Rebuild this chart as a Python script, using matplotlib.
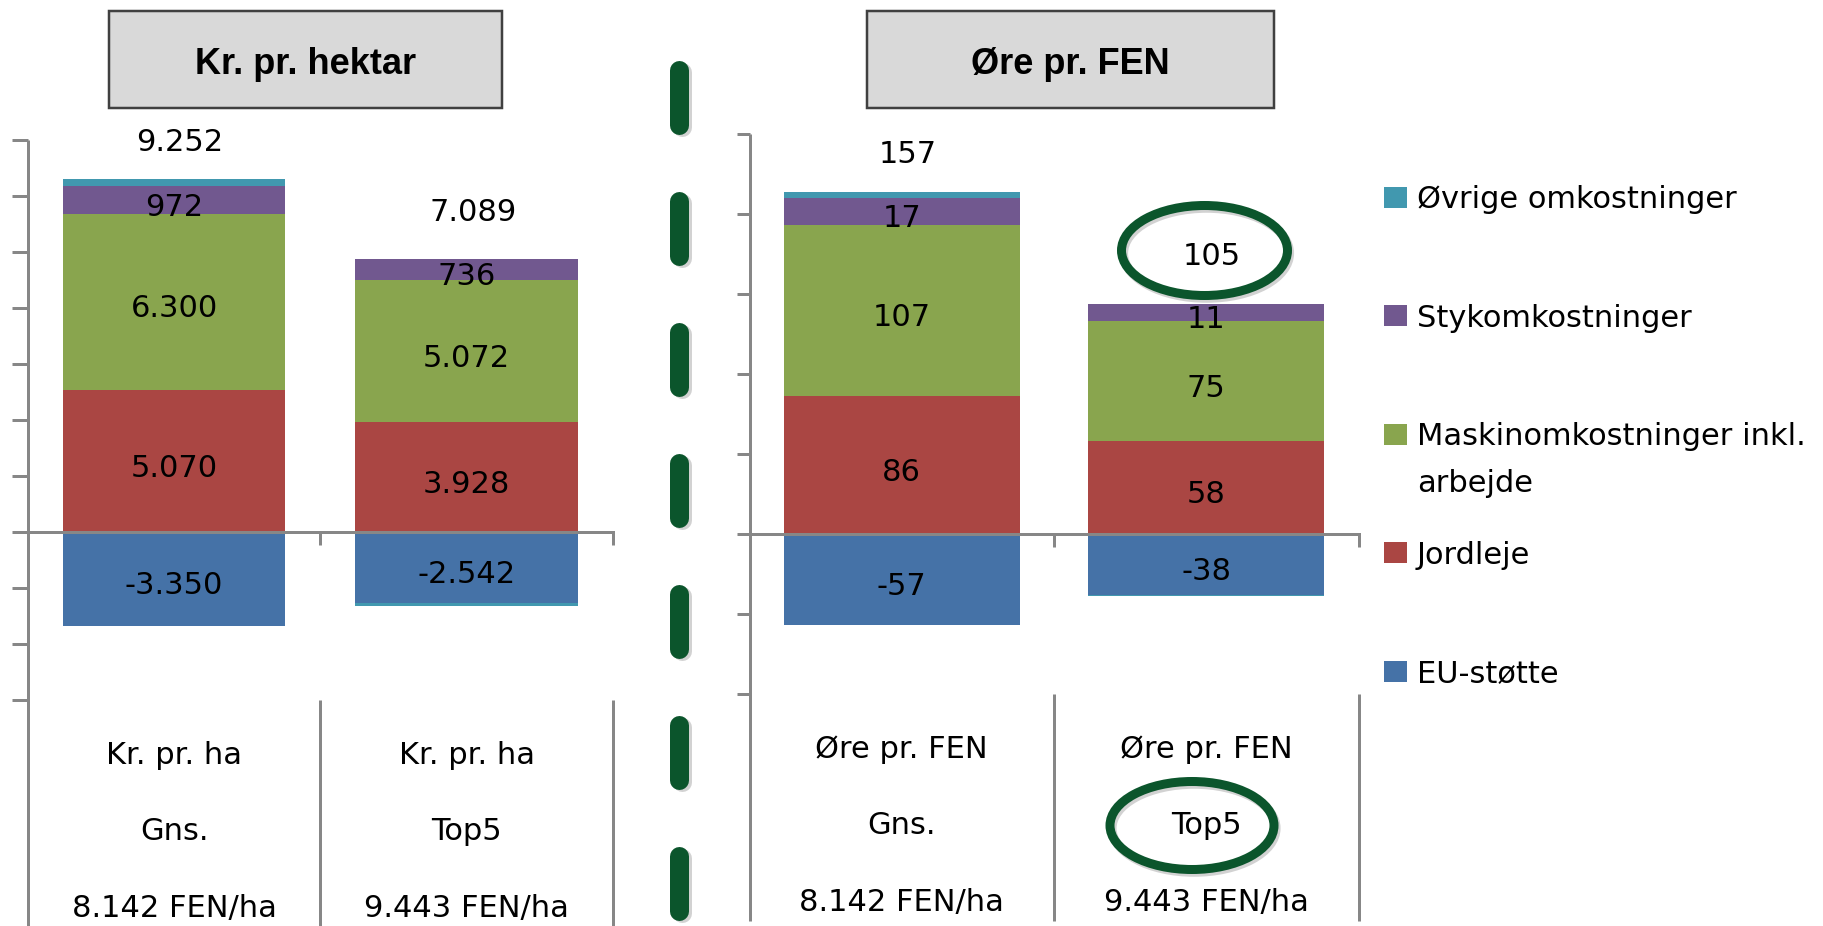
import matplotlib
matplotlib.use('Agg')
import matplotlib.pyplot as plt
import matplotlib.patheffects as pe
import matplotlib.transforms as mtransforms
from matplotlib.patches import Rectangle, Ellipse
from matplotlib.lines import Line2D
import numpy as np

# Figure size in pixels (dpi 100)
W, H = 1824, 926

# Data
categories = ['Gns.', 'Top5']
fen_pr_ha = ['8.142 FEN/ha', '9.443 FEN/ha']

series_names = ['Øvrige omkostninger', 'Stykomkostninger',
                'Maskinomkostninger inkl.\narbejde', 'Jordleje', 'EU-støtte']
series_colors = ['#4198AF', '#71588F', '#89A54E', '#AA4643', '#4572A7']

# Kr. pr. hektar
kr_eu_stotte = [-3350, -2542]
kr_jordleje = [5070, 3928]
kr_maskin = [6300, 5072]
kr_styk = [972, 736]
kr_ovrige = [260, -105]
kr_total = [9252, 7089]

# Øre pr. FEN
ore_eu_stotte = [-57, -38]
ore_jordleje = [86, 58]
ore_maskin = [107, 75]
ore_styk = [17, 11]
ore_ovrige = [4, -1]
ore_total = [157, 105]

AXIS_GRAY = '#878787'
DARK_GREEN = '#0b552c'
FONT_SIZE = 22
PX = 0.72  # points per pixel at dpi 100


def px(x, y):
    # pixel position (from top-left) -> figure fraction
    return x / W, 1 - y / H


def fmt_dk(v):
    return f'{int(round(v)):,}'.replace(',', '.')


def draw_panel(ax, values, totals, unit_label, ylim, ystep, tick_len, bar_width):
    x = np.arange(len(categories))
    colors = {'eu': series_colors[4], 'jord': series_colors[3], 'maskin': series_colors[2],
              'styk': series_colors[1], 'ovrige': series_colors[0]}

    # Stack: negatives go down from 0, positives go up from 0
    pos_base = np.zeros(len(x))
    neg_base = np.zeros(len(x))
    for key in ['eu', 'jord', 'maskin', 'styk', 'ovrige']:
        v = np.array(values[key], dtype=float)
        bottom = np.where(v >= 0, pos_base, neg_base)
        ax.bar(x, v, bottom=bottom, width=bar_width, color=colors[key], linewidth=0, zorder=1)
        if key != 'ovrige':
            for xi, vi, bi in zip(x, v, bottom):
                ax.annotate(fmt_dk(vi), (xi, bi + vi / 2), xytext=(0, -7 * PX),
                            textcoords='offset points', ha='center', va='center',
                            fontsize=FONT_SIZE, color='black')
        pos_base = pos_base + np.where(v >= 0, v, 0)
        neg_base = neg_base + np.where(v < 0, v, 0)

    # Totals above the stacks
    total_pad = [40, 50]
    for xi, top, tot, pad in zip(x, pos_base, totals, total_pad):
        ax.annotate(fmt_dk(tot), (xi, top), xytext=(6 * PX, (pad - 3) * PX),
                    textcoords='offset points', ha='center', va='center',
                    fontsize=FONT_SIZE, color='black')

    ax.set_xlim(-0.5, len(categories) - 0.5)
    ax.set_ylim(*ylim)
    ax.set_yticks(np.arange(ylim[0], ylim[1] + 1, ystep))
    ax.set_xticks(x + 0.5)
    ax.tick_params(axis='y', direction='out', length=tick_len * PX, width=3 * PX,
                   color=AXIS_GRAY, labelleft=False)
    ax.tick_params(axis='x', direction='out', length=13 * PX, width=3 * PX,
                   color=AXIS_GRAY, labelbottom=False)
    for side in ['top', 'right', 'left']:
        ax.spines[side].set_visible(False)
    ax.spines['bottom'].set_position(('data', 0))
    ax.spines['bottom'].set_color(AXIS_GRAY)
    ax.spines['bottom'].set_linewidth(3 * PX)

    # Vertical axis line running down through the category label area
    ax.add_line(Line2D([0, 0], [1, -0.405], transform=ax.transAxes, clip_on=False,
                       color=AXIS_GRAY, lw=3 * PX, solid_capstyle='butt'))
    trans = mtransforms.blended_transform_factory(ax.transData, ax.transAxes)
    for xs in x + 0.5:
        ax.add_line(Line2D([xs, xs], [0, -0.405], transform=trans, clip_on=False,
                           color=AXIS_GRAY, lw=3 * PX, solid_capstyle='butt'))

    # Multi-level category labels
    for i, cat in enumerate(categories):
        for row, txt in zip([55, 131, 208], [unit_label, cat, fen_pr_ha[i]]):
            ax.text(i, -row / 560, txt, transform=trans, ha='center', va='center',
                    fontsize=FONT_SIZE, color='black')


fig = plt.figure(figsize=(W / 100, H / 100), dpi=100)

ax_kr = fig.add_axes([27.7 / W, (H - 700) / H, (613 - 27.7) / W, 560 / H])
ax_ore = fig.add_axes([749.5 / W, (H - 694) / H, (1358.5 - 749.5) / W, 560 / H])
for a in (ax_kr, ax_ore):
    a.patch.set_alpha(0)

draw_panel(ax_kr,
           {'eu': kr_eu_stotte, 'jord': kr_jordleje, 'maskin': kr_maskin,
            'styk': kr_styk, 'ovrige': kr_ovrige},
           kr_total, 'Kr. pr. ha', (-6000, 14000), 2000, 16, 0.76)
draw_panel(ax_ore,
           {'eu': ore_eu_stotte, 'jord': ore_jordleje, 'maskin': ore_maskin,
            'styk': ore_styk, 'ovrige': ore_ovrige},
           ore_total, 'Øre pr. FEN', (-100, 250), 50, 13, 0.775)

# Title boxes
for (x0, x1), title in [((109, 502), 'Kr. pr. hektar'), ((867, 1274), 'Øre pr. FEN')]:
    fig.add_artist(Rectangle(px(x0, 108), (x1 - x0) / W, 97 / H, transform=fig.transFigure,
                             facecolor='#D9D9D9', edgecolor='#404040', lw=2.5 * PX))
    fig.text(*px((x0 + x1) / 2, 64), title, ha='center', va='center', fontsize=26,
             fontweight='bold', family='Liberation Sans', color='black')

# Legend (drawn by hand, evenly spaced like the original)
for i, (name, color) in enumerate(zip(series_names, series_colors)):
    yc = 197 + i * 118.5
    fig.add_artist(Rectangle(px(1384, yc + 10.5), 23 / W, 21 / H, transform=fig.transFigure,
                             facecolor=color, edgecolor='none'))
    for j, line in enumerate(name.split('\n')):
        fig.text(*px(1417, yc + 3 + j * 47), line, ha='left', va='center',
                 fontsize=FONT_SIZE, color='black')

# Green dashed divider between the two panels
shadow = [pe.SimpleLineShadow(offset=(1.5, -2), shadow_color='gray', alpha=0.35), pe.Normal()]
divider = Line2D([679.5 / W, 679.5 / W], [1 - 69.5 / H, 1 - 910.5 / H], transform=fig.transFigure,
                 color=DARK_GREEN, lw=19 * PX, dash_capstyle='round',
                 dashes=(55 / 19, 76 / 19), path_effects=shadow)
fig.add_artist(divider)

# Highlight ellipses
for (cx, cy, w, h) in [(1204.5, 250.5, 166, 90), (1192, 825.5, 164, 88)]:
    fig.add_artist(Ellipse(px(cx, cy), w / W, h / H, transform=fig.transFigure,
                           fill=False, edgecolor=DARK_GREEN, lw=9 * PX, path_effects=shadow))

fig.savefig('out.png', dpi=100)
